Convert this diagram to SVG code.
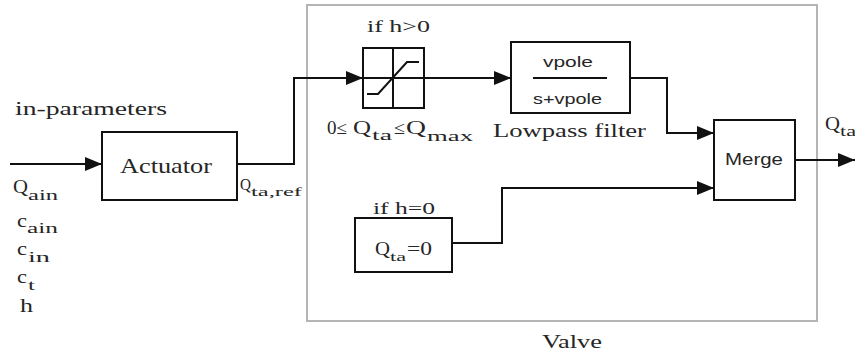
<svg xmlns="http://www.w3.org/2000/svg" width="855" height="355" viewBox="0 0 855 355">
<style>
.s{font-family:"Liberation Serif","Times New Roman",serif;fill:#262626}
.a{font-family:"Liberation Sans",Arial,sans-serif;fill:#262626}
.box{fill:none;stroke:#111;stroke-width:2}
.ln{fill:none;stroke:#111;stroke-width:2}
</style>
<defs>
<marker id="ar" markerUnits="userSpaceOnUse" markerWidth="17" markerHeight="14" refX="17" refY="7" orient="auto" viewBox="0 0 17 14">
<path d="M0,0 L17,7 L0,14 z" fill="#111"/>
</marker>
</defs>
<rect width="855" height="355" fill="#fff"/>
<g id="valve">
<rect x="307" y="5" width="510" height="316" fill="none" stroke="#b4b4b4" stroke-width="2"/>
<text class="s" x="542" y="348" font-size="19" textLength="60" lengthAdjust="spacingAndGlyphs">Valve</text>
</g>
<g id="inputs">
<text class="s" x="15" y="115" font-size="18" textLength="152" lengthAdjust="spacingAndGlyphs">in-parameters</text>
<text class="s" x="13" y="193" font-size="19" textLength="15" lengthAdjust="spacingAndGlyphs">Q</text>
<text class="s" x="28" y="200" font-size="14" textLength="30" lengthAdjust="spacingAndGlyphs">ain</text>
<text class="s" x="17" y="227" font-size="18" textLength="10" lengthAdjust="spacingAndGlyphs">c</text>
<text class="s" x="27" y="233" font-size="14" textLength="31" lengthAdjust="spacingAndGlyphs">ain</text>
<text class="s" x="17" y="255" font-size="18" textLength="10" lengthAdjust="spacingAndGlyphs">c</text>
<text class="s" x="28" y="262" font-size="14" textLength="22" lengthAdjust="spacingAndGlyphs">in</text>
<text class="s" x="17" y="283" font-size="18" textLength="10" lengthAdjust="spacingAndGlyphs">c</text>
<text class="s" x="28" y="290" font-size="14" textLength="7" lengthAdjust="spacingAndGlyphs">t</text>
<text class="s" x="20" y="312" font-size="19" textLength="13" lengthAdjust="spacingAndGlyphs">h</text>
</g>
<g id="actuator">
<rect class="box" x="102" y="132" width="135" height="68"/>
<text class="s" x="120" y="173" font-size="21" textLength="92" lengthAdjust="spacingAndGlyphs">Actuator</text>
<text class="s" x="240" y="190" font-size="17" textLength="11" lengthAdjust="spacingAndGlyphs">Q</text>
<text class="s" x="251" y="196" font-size="13" textLength="51" lengthAdjust="spacingAndGlyphs">ta,ref</text>
</g>
<g id="saturation">
<text class="s" x="367" y="32" font-size="17" textLength="63" lengthAdjust="spacingAndGlyphs">if h&gt;0</text>
<rect class="box" x="363" y="48" width="61" height="60"/>
<line x1="393" y1="48" x2="393" y2="108" stroke="#111" stroke-width="2"/>
<line x1="363" y1="78" x2="424" y2="78" stroke="#111" stroke-width="2"/>
<polyline class="ln" points="367,94 378,94 407,62 419,62"/>
<text class="s" x="327" y="134" font-size="18" textLength="20" lengthAdjust="spacingAndGlyphs">0≤</text>
<text class="s" x="353" y="134" font-size="19" textLength="18" lengthAdjust="spacingAndGlyphs">Q</text>
<text class="s" x="372" y="140" font-size="14" textLength="20" lengthAdjust="spacingAndGlyphs">ta</text>
<text class="s" x="394" y="134" font-size="18" textLength="11" lengthAdjust="spacingAndGlyphs">≤</text>
<text class="s" x="406" y="134" font-size="19" textLength="20" lengthAdjust="spacingAndGlyphs">Q</text>
<text class="s" x="427" y="141" font-size="14" textLength="46" lengthAdjust="spacingAndGlyphs">max</text>
</g>
<g id="lowpass">
<rect class="box" x="511" y="42" width="119" height="71"/>
<text class="a" x="543" y="67" font-size="15" textLength="50" lengthAdjust="spacingAndGlyphs">vpole</text>
<line x1="533" y1="78" x2="607" y2="78" stroke="#111" stroke-width="2"/>
<text class="a" x="533" y="104" font-size="15" textLength="69" lengthAdjust="spacingAndGlyphs">s+vpole</text>
<text class="s" x="493" y="137" font-size="18" textLength="153" lengthAdjust="spacingAndGlyphs">Lowpass filter</text>
</g>
<g id="zero">
<text class="s" x="373" y="214" font-size="17" textLength="62" lengthAdjust="spacingAndGlyphs">if h=0</text>
<rect class="box" x="355" y="218" width="97" height="54"/>
<text class="s" x="375" y="255" font-size="19" textLength="15" lengthAdjust="spacingAndGlyphs">Q</text>
<text class="s" x="390" y="261" font-size="13" textLength="16" lengthAdjust="spacingAndGlyphs">ta</text>
<text class="s" x="407" y="255" font-size="19" textLength="25" lengthAdjust="spacingAndGlyphs">=0</text>
</g>
<g id="merge">
<rect class="box" x="714" y="120" width="81" height="80"/>
<text class="a" x="725" y="165" font-size="16" textLength="58" lengthAdjust="spacingAndGlyphs">Merge</text>
</g>
<g id="output">
<text class="s" x="825" y="130" font-size="19" textLength="15" lengthAdjust="spacingAndGlyphs">Q</text>
<text class="s" x="840" y="136" font-size="14" textLength="16" lengthAdjust="spacingAndGlyphs">ta</text>
</g>
<g id="connectors">
<path class="ln" d="M10,164 H102" marker-end="url(#ar)"/>
<path class="ln" d="M237,164 H294 V78 H363" marker-end="url(#ar)"/>
<path class="ln" d="M424,78 H511" marker-end="url(#ar)"/>
<path class="ln" d="M630,78 H667 V133 H714" marker-end="url(#ar)"/>
<path class="ln" d="M452,243 H502 V188 H714" marker-end="url(#ar)"/>
<path class="ln" d="M795,160 H855" marker-end="url(#ar)"/>
</g>
</svg>
